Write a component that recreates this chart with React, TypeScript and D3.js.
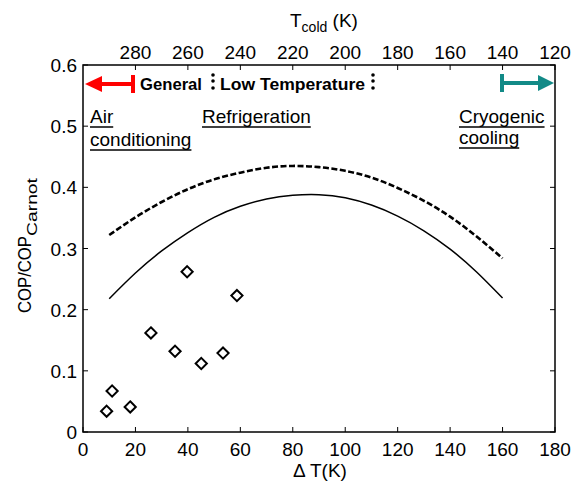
import React, { useEffect, useRef } from 'react';
import * as d3 from 'd3';

// measured points (delta T, COP/COP_Carnot)
const measuredDT = [9.0, 11.1, 18.0, 25.9, 35.1, 39.7, 45.1, 53.4, 58.7];
const measuredCOP = [0.034, 0.067, 0.041, 0.162, 0.132, 0.262, 0.112, 0.129, 0.223];

// model curves
const curveDT = [10, 20, 30, 40, 50, 60, 70, 80, 90, 100, 110, 120, 130, 140, 150, 160];
const solidCOP = [0.218, 0.26, 0.296, 0.326, 0.351, 0.369, 0.381, 0.387, 0.388, 0.383, 0.371, 0.353, 0.329, 0.299, 0.262, 0.219];
const dashedCOP = [0.322, 0.351, 0.376, 0.397, 0.413, 0.424, 0.432, 0.435, 0.433, 0.427, 0.416, 0.399, 0.378, 0.352, 0.32, 0.284];

const xTicks = [0, 20, 40, 60, 80, 100, 120, 140, 160, 180];
const yTicks = [0, 0.1, 0.2, 0.3, 0.4, 0.5, 0.6];
const tColdTicks = [280, 260, 240, 220, 200, 180, 160, 140, 120];

const FONT = 'Liberation Sans, Arial, sans-serif';

export default function App() {
  const ref = useRef<SVGSVGElement>(null);

  useEffect(() => {
    const width = 575;
    const height = 483;
    const left = 83, right = 555, top = 65, bottom = 432;

    const svg = d3.select(ref.current);
    svg.selectAll('*').remove();
    svg.attr('width', width).attr('height', height);

    const x = d3.scaleLinear().domain([0, 180]).range([left, right]);
    const y = d3.scaleLinear().domain([0, 0.6]).range([bottom, top]);
    // top axis: T_cold = 300 - delta T
    const xt = d3.scaleLinear().domain([300, 120]).range([left, right]);

    const g = svg.append('g').attr('font-family', FONT);

    // ticks (inward)
    const tick = 5;
    const fs = 19;
    xTicks.forEach((t) => {
      g.append('line').attr('x1', x(t)).attr('x2', x(t)).attr('y1', bottom).attr('y2', bottom - tick).attr('stroke', '#000');
      g.append('text').attr('x', x(t)).attr('y', 456).attr('text-anchor', 'middle').attr('font-size', fs).text(t);
    });
    tColdTicks.forEach((t) => {
      g.append('line').attr('x1', xt(t)).attr('x2', xt(t)).attr('y1', top).attr('y2', top + tick).attr('stroke', '#000');
      g.append('text').attr('x', xt(t)).attr('y', 59).attr('text-anchor', 'middle').attr('font-size', fs).text(t);
    });
    yTicks.forEach((t) => {
      g.append('line').attr('x1', left).attr('x2', left + tick).attr('y1', y(t)).attr('y2', y(t)).attr('stroke', '#000');
      g.append('line').attr('x1', right).attr('x2', right - tick).attr('y1', y(t)).attr('y2', y(t)).attr('stroke', '#000');
      g.append('text').attr('x', 77).attr('y', y(t) + 7).attr('text-anchor', 'end').attr('font-size', fs).text(t === 0 ? '0' : d3.format('.1f')(t));
    });

    // frame
    g.append('rect').attr('x', left).attr('y', top).attr('width', right - left).attr('height', bottom - top)
      .attr('fill', 'none').attr('stroke', '#000').attr('stroke-width', 1.5);

    // axis titles
    g.append('text').attr('x', 320).attr('y', 477).attr('text-anchor', 'middle').attr('font-size', fs).text('\u0394 T(K)');

    const tl = g.append('text').attr('x', 290).attr('y', 27).attr('font-size', fs);
    tl.append('tspan').text('T');
    tl.append('tspan').attr('font-size', 14).attr('dy', 5).text('cold');
    tl.append('tspan').attr('dy', -5).text(' (K)');

    const yl = g.append('text').attr('transform', 'translate(31,313) rotate(-90)').attr('font-size', 18.5);
    yl.append('tspan').attr('textLength', 77).attr('lengthAdjust', 'spacingAndGlyphs').text('COP/COP');
    yl.append('tspan').attr('font-size', 14).attr('dy', 6).attr('textLength', 58).attr('lengthAdjust', 'spacingAndGlyphs').text('Carnot');

    // curves
    const line = d3.line<number>()
      .x((_, i) => x(curveDT[i]))
      .y((d) => y(d))
      .curve(d3.curveNatural);
    g.append('path').attr('d', line(dashedCOP)).attr('fill', 'none').attr('stroke', '#000')
      .attr('stroke-width', 2.6).attr('stroke-dasharray', '6,2.5');
    g.append('path').attr('d', line(solidCOP)).attr('fill', 'none').attr('stroke', '#000')
      .attr('stroke-width', 1.5);

    // measured diamonds
    const sym = d3.symbol().type(d3.symbolDiamond2).size(80);
    measuredDT.forEach((d, i) => {
      g.append('path').attr('d', sym()).attr('transform', `translate(${x(d)},${y(measuredCOP[i])})`)
        .attr('fill', 'none').attr('stroke', '#000').attr('stroke-width', 2);
    });

    // red arrow (left)
    const red = '#ff0000';
    const ay = 84;
    g.append('line').attr('x1', 100).attr('x2', 133).attr('y1', ay).attr('y2', ay).attr('stroke', red).attr('stroke-width', 4);
    g.append('line').attr('x1', 133).attr('x2', 133).attr('y1', 75).attr('y2', 93).attr('stroke', red).attr('stroke-width', 4);
    g.append('path').attr('d', `M${left + 2},${ay} L${102},${ay - 8} L${102},${ay + 8} Z`).attr('fill', red);

    // teal arrow (right)
    const teal = '#128a87';
    g.append('line').attr('x1', 502).attr('x2', 540).attr('y1', ay - 1).attr('y2', ay - 1).attr('stroke', teal).attr('stroke-width', 4);
    g.append('line').attr('x1', 502).attr('x2', 502).attr('y1', 74).attr('y2', 92).attr('stroke', teal).attr('stroke-width', 4);
    g.append('path').attr('d', `M${right - 1},${ay - 1} L${538},${ay - 9} L${538},${ay + 7} Z`).attr('fill', teal);

    // region labels
    g.append('text').attr('x', 140).attr('y', 90).attr('font-size', 17).attr('font-weight', 'bold')
      .attr('textLength', 62).attr('lengthAdjust', 'spacingAndGlyphs').text('General');
    g.append('text').attr('x', 220).attr('y', 90).attr('font-size', 17).attr('font-weight', 'bold')
      .attr('textLength', 145).attr('lengthAdjust', 'spacingAndGlyphs').text('Low Temperature');
    [213, 373].forEach((dx) => {
      [75, 81, 88].forEach((dy) => {
        g.append('circle').attr('cx', dx).attr('cy', dy).attr('r', 1.8).attr('fill', '#000');
      });
    });

    const under = (tx: number, ty: number, s: string) => {
      const t = g.append('text').attr('x', tx).attr('y', ty).attr('font-size', 19).text(s);
      const w = (t.node() as SVGTextElement).getComputedTextLength();
      g.append('line').attr('x1', tx).attr('x2', tx + w).attr('y1', ty + 4).attr('y2', ty + 4).attr('stroke', '#000').attr('stroke-width', 1.5);
    };
    under(90, 123, 'Air');
    under(90, 146, 'conditioning');
    under(202, 123, 'Refrigeration');
    under(459, 123, 'Cryogenic');
    under(459, 144, 'cooling');
  }, []);

  return <svg ref={ref} style={{ position: 'absolute', left: 0, top: 0 }} />;
}
